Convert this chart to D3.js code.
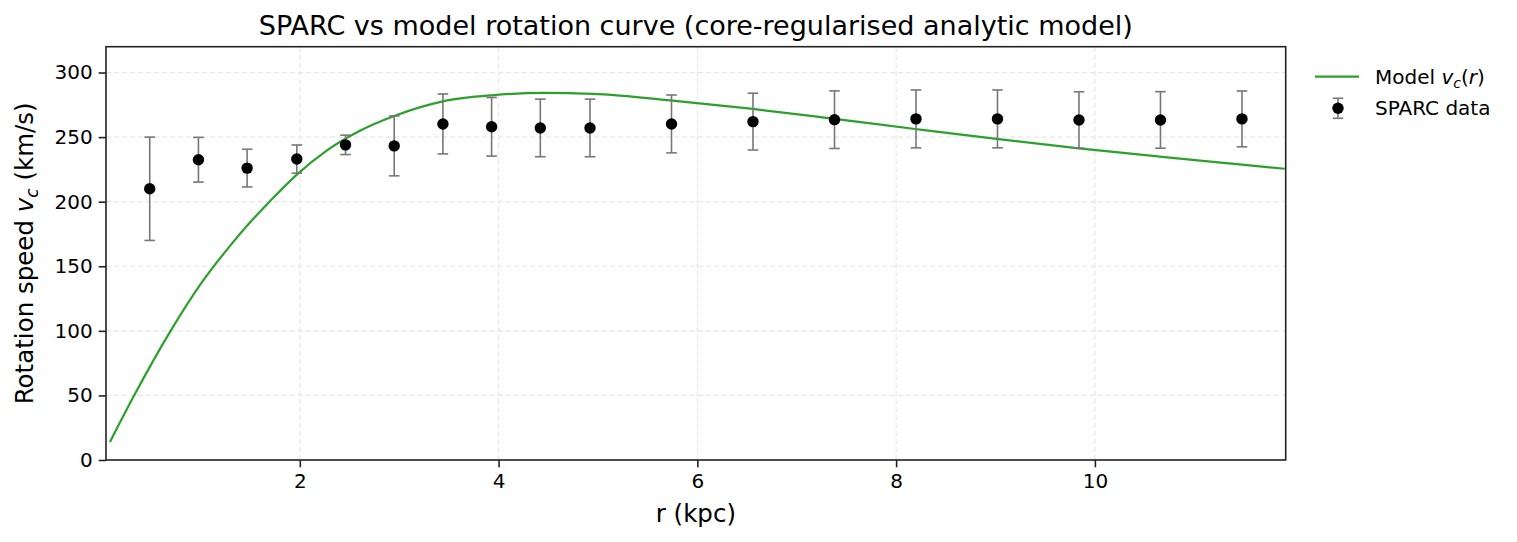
<!DOCTYPE html>
<html>
<head>
<meta charset="utf-8">
<script src="https://cdn.jsdelivr.net/npm/d3@7"></script>
<style>
    body { margin: 0; background: #fff; }
    svg { display: block; }
    text { font-family: "DejaVu Sans", sans-serif; fill: #000; }
</style>
</head>
<body>
<div id="chart"></div>
<script>
// SPARC observations (r in kpc, v and error in km/s)
var dataR = [0.49, 0.98, 1.47, 1.97, 2.46, 2.95, 3.44, 3.93, 4.42, 4.92,
    5.74, 6.56, 7.38, 8.20, 9.02, 9.84, 10.66, 11.48];
var dataV = [210, 232.5, 226, 233, 244, 243.2, 260.2, 258, 257.1, 257.1,
    260.2, 262, 263.5, 264.1, 264.1, 263.3, 263.3, 264.1];
var dataErr = [40, 17.3, 14.6, 10.9, 7.5, 23.2, 23.2, 22.7, 22.3, 22.3,
    22.4, 22, 22.3, 22.4, 22.4, 21.8, 21.9, 21.6];

// model curve
var modelR = [0.09, 0.33, 0.70, 1.00, 1.30, 1.50, 1.70, 1.97, 2.27, 2.60, 2.95,
    3.44, 3.95, 4.45, 4.95, 5.22, 5.75, 6.56, 7.38, 8.19, 9.01, 9.84, 10.65, 11.48, 11.91];
var modelV = [14, 49.5, 100, 136, 166, 184, 200.4, 221, 239.6, 254.8, 266.4,
    277.7, 282.5, 284.2, 283.4, 282.1, 278.3, 271.8, 264.1, 256.3, 248.6, 241.3, 234.9, 228.7, 225.5];

var xTicks = [2, 4, 6, 8, 10];
var yTicks = [0, 50, 100, 150, 200, 250, 300];

var width = 1517,
    height = 542;

var plot = {left: 106, top: 46.7, right: 1285.7, bottom: 460};

var svg = d3.select("#chart").append("svg")
    .attr("width", width)
    .attr("height", height);

var x = d3.scaleLinear().domain([0.05, 11.92]).range([plot.left, plot.right]);
var y = d3.scaleLinear().domain([0, 320]).range([plot.bottom, plot.top]);

svg.append("defs").append("clipPath")
    .attr("id", "plotclip")
    .append("rect")
    .attr("x", plot.left)
    .attr("y", plot.top)
    .attr("width", plot.right - plot.left)
    .attr("height", plot.bottom - plot.top);

// grid
var grid = svg.append("g");
grid.selectAll(".gx")
    .data(xTicks)
    .enter().append("line")
    .attr("x1", function (d) { return x(d); })
    .attr("x2", function (d) { return x(d); })
    .attr("y1", plot.top)
    .attr("y2", plot.bottom);
grid.selectAll(".gy")
    .data(yTicks)
    .enter().append("line")
    .attr("x1", plot.left)
    .attr("x2", plot.right)
    .attr("y1", function (d) { return y(d); })
    .attr("y2", function (d) { return y(d); });
grid.selectAll("line")
    .attr("stroke", "#e6e6e6")
    .attr("stroke-width", 1.2)
    .attr("stroke-dasharray", "5,3");

// model line
var line = d3.line()
    .x(function (d) { return x(d[0]); })
    .y(function (d) { return y(d[1]); })
    .curve(d3.curveMonotoneX);

svg.append("path")
    .datum(d3.zip(modelR, modelV))
    .attr("clip-path", "url(#plotclip)")
    .attr("fill", "none")
    .attr("stroke", "#2ca02c")
    .attr("stroke-width", 2.2)
    .attr("d", line);

// error bars
var pts = d3.range(dataR.length).map(function (i) {
    return {r: dataR[i], v: dataV[i], e: dataErr[i]};
});
var cap = 5.3;
var eb = svg.append("g")
    .attr("stroke", "#777")
    .attr("stroke-width", 1.6);
pts.forEach(function (d) {
    var cx = x(d.r);
    eb.append("line")
        .attr("x1", cx).attr("x2", cx)
        .attr("y1", y(d.v - d.e)).attr("y2", y(d.v + d.e));
    eb.append("line")
        .attr("x1", cx - cap).attr("x2", cx + cap)
        .attr("y1", y(d.v - d.e)).attr("y2", y(d.v - d.e));
    eb.append("line")
        .attr("x1", cx - cap).attr("x2", cx + cap)
        .attr("y1", y(d.v + d.e)).attr("y2", y(d.v + d.e));
});

svg.append("g").selectAll("circle")
    .data(pts)
    .enter().append("circle")
    .attr("cx", function (d) { return x(d.r); })
    .attr("cy", function (d) { return y(d.v); })
    .attr("r", 5.7)
    .attr("fill", "#000");

// axes
var xAxis = svg.append("g")
    .attr("transform", "translate(0," + plot.bottom + ")")
    .call(d3.axisBottom(x).tickValues(xTicks).tickSize(7.3).tickPadding(6));
var yAxis = svg.append("g")
    .attr("transform", "translate(" + plot.left + ",0)")
    .call(d3.axisLeft(y).tickValues(yTicks).tickSize(7.3).tickPadding(6));

[xAxis, yAxis].forEach(function (a) {
    a.select(".domain").remove();
    a.selectAll(".tick line").attr("stroke", "#222").attr("stroke-width", 1.6);
    a.selectAll(".tick text")
        .style("font-family", "DejaVu Sans")
        .style("font-size", "20px")
        .attr("fill", "#000");
});

// frame
svg.append("rect")
    .attr("x", plot.left)
    .attr("y", plot.top)
    .attr("width", plot.right - plot.left)
    .attr("height", plot.bottom - plot.top)
    .attr("fill", "none")
    .attr("stroke", "#222")
    .attr("stroke-width", 1.6);

// title and labels
svg.append("text")
    .attr("x", (plot.left + plot.right) / 2)
    .attr("y", 35)
    .attr("text-anchor", "middle")
    .style("font-size", "27px")
    .text("SPARC vs model rotation curve (core-regularised analytic model)");

svg.append("text")
    .attr("x", (plot.left + plot.right) / 2)
    .attr("y", 522)
    .attr("text-anchor", "middle")
    .style("font-size", "24.5px")
    .text("r (kpc)");

var yl = svg.append("text")
    .attr("transform", "translate(33," + ((plot.top + plot.bottom) / 2) + ") rotate(-90)")
    .attr("text-anchor", "middle")
    .style("font-size", "24.5px");
yl.append("tspan").text("Rotation speed ");
yl.append("tspan").style("font-style", "italic").text("v");
yl.append("tspan").style("font-size", "17px").style("font-style", "italic").attr("dy", 5).text("c");
yl.append("tspan").attr("dy", -5).text(" (km/s)");

// legend
var lg = svg.append("g");
lg.append("line")
    .attr("x1", 1315).attr("x2", 1359)
    .attr("y1", 76.7).attr("y2", 76.7)
    .attr("stroke", "#2ca02c")
    .attr("stroke-width", 2.2);
var lt = lg.append("text")
    .attr("x", 1375)
    .attr("y", 84)
    .style("font-size", "20px");
lt.append("tspan").text("Model ");
lt.append("tspan").style("font-style", "italic").text("v");
lt.append("tspan").style("font-size", "14px").style("font-style", "italic").attr("dy", 4).text("c");
lt.append("tspan").attr("dy", -4).text("(");
lt.append("tspan").style("font-style", "italic").text("r");
lt.append("tspan").text(")");

var lgx = 1338, lgy = 108.3;
var lgBars = lg.append("g")
    .attr("stroke", "#777")
    .attr("stroke-width", 1.6);
lgBars.append("line")
    .attr("x1", lgx).attr("x2", lgx)
    .attr("y1", lgy - 10).attr("y2", lgy + 10);
lgBars.append("line")
    .attr("x1", lgx - cap).attr("x2", lgx + cap)
    .attr("y1", lgy - 10).attr("y2", lgy - 10);
lgBars.append("line")
    .attr("x1", lgx - cap).attr("x2", lgx + cap)
    .attr("y1", lgy + 10).attr("y2", lgy + 10);
lg.append("circle")
    .attr("cx", lgx).attr("cy", lgy)
    .attr("r", 5.7)
    .attr("fill", "#000");
lg.append("text")
    .attr("x", 1375)
    .attr("y", lgy + 7)
    .style("font-size", "20px")
    .text("SPARC data");
</script>
</body>
</html>
